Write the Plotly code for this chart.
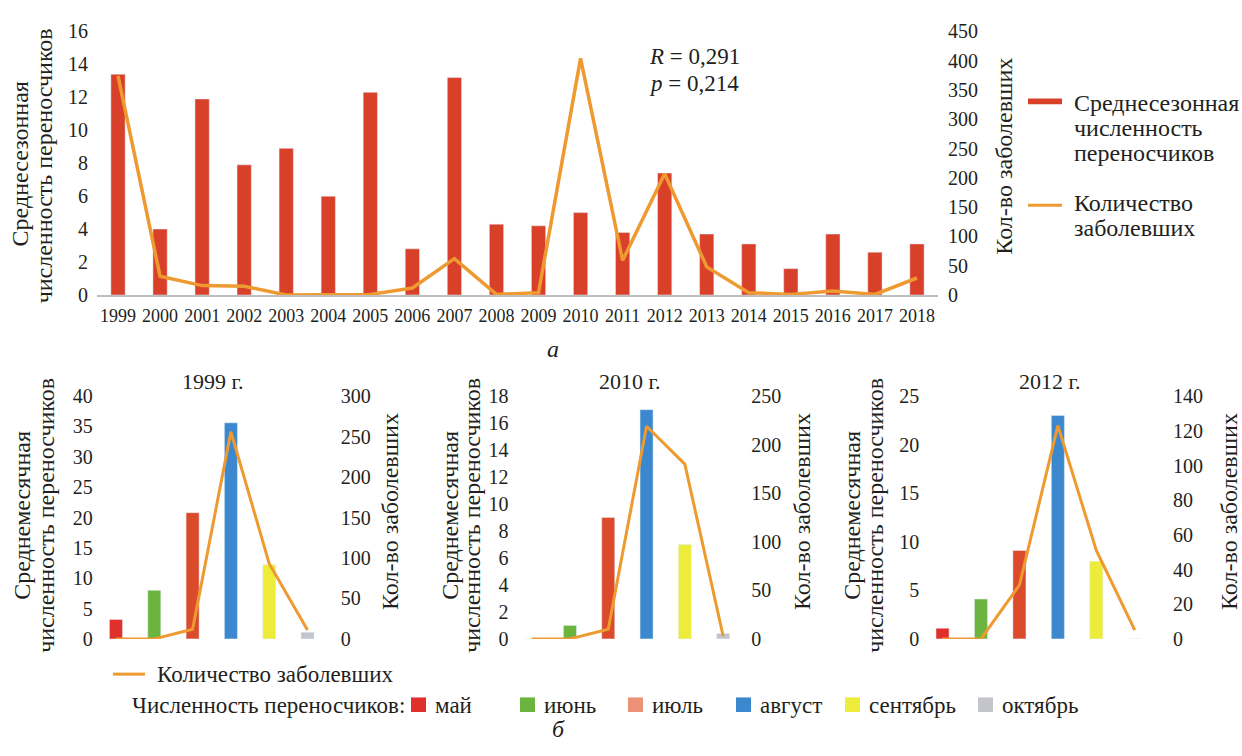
import plotly.graph_objects as go

W, H = 1242, 756
FONT = "Liberation Serif"
INK = "#231F20"

# ---- data: seasonal means 1999-2018 ----
years = ["1999", "2000", "2001", "2002", "2003", "2004", "2005", "2006", "2007", "2008",
         "2009", "2010", "2011", "2012", "2013", "2014", "2015", "2016", "2017", "2018"]
vector_mean = [13.4, 4.0, 11.9, 7.9, 8.9, 6.0, 12.3, 2.8, 13.2, 4.3,
               4.2, 5.0, 3.8, 7.4, 3.7, 3.1, 1.6, 3.7, 2.6, 3.1]
cases_year = [374, 32, 16, 15, 0, 0, 1, 12, 62, 1,
              4, 404, 59, 207, 48, 4, 1, 7, 1, 29]

# ---- data: monthly means for selected years ----
months = ["май", "июнь", "июль", "август", "сентябрь", "октябрь"]
vectors_1999 = [3.2, 8.0, 20.8, 35.6, 12.2, 1.1]
cases_1999 = [0, 0, 12, 256, 93, 11]
vectors_2010 = [0, 1.0, 9.0, 17.0, 7.0, 0.4]
cases_2010 = [0, 0, 10, 219, 180, 3]
vectors_2012 = [1.1, 4.1, 9.1, 23.0, 8.0, 0]
cases_2012 = [0, 0, 31, 123, 51, 5]

BAR_RED = "#D9402A"
LINE_ORANGE = "#EE9A30"
month_colors = ["#E0302B", "#6BB43F", "#DA4A2B", "#3B88CF", "#EEEC3A", "#C4C4CC"]
legend_month_colors = ["#E0302B", "#6BB43F", "#EC9278", "#3B88CF", "#EEEC3A", "#C4C4CC"]


def px(x):
    return x / W


def py(y):
    return 1 - y / H


fig = go.Figure()

# ---- top panel ----
fig.add_trace(go.Bar(x=years, y=vector_mean, marker_color=BAR_RED, xaxis="x", yaxis="y",
                     showlegend=False))
fig.add_trace(go.Scatter(x=years, y=cases_year, mode="lines", xaxis="x", yaxis="y2",
                         line=dict(color=LINE_ORANGE, width=3.5), showlegend=False))

# ---- bottom panels ----
panels = [
    ("x2", "y3", "y4", vectors_1999, cases_1999),
    ("x3", "y5", "y6", vectors_2010, cases_2010),
    ("x4", "y7", "y8", vectors_2012, cases_2012),
]
for xa, ya, yb, vec, cas in panels:
    fig.add_trace(go.Bar(x=months, y=vec, marker_color=month_colors, xaxis=xa, yaxis=ya,
                         showlegend=False))
    fig.add_trace(go.Scatter(x=months, y=cas, mode="lines", xaxis=xa, yaxis=yb,
                             line=dict(color=LINE_ORANGE, width=3), showlegend=False))

tick_font = dict(family=FONT, size=20, color=INK)
common_y = dict(showgrid=False, zeroline=False, showline=False, ticks="", tickfont=tick_font)

top_dom = [py(292.5), py(21)]
bot_dom = [py(646.7), py(396.7)]

layout = dict(
    width=W, height=H,
    margin=dict(l=0, r=0, t=0, b=0),
    paper_bgcolor="white", plot_bgcolor="white",
    bargap=0.66,
    showlegend=False,
    font=dict(family=FONT, color=INK, size=20),
    xaxis=dict(domain=[px(97), px(938)], anchor="y", showgrid=False, zeroline=False,
               showline=True, linecolor="#BFBFBF", linewidth=1.5, ticks="",
               tickfont=dict(family=FONT, size=18, color=INK), ticklabelstandoff=4,
               type="category"),
    yaxis=dict(domain=top_dom, anchor="x", range=[0, 16], dtick=2, ticklabelstandoff=8, **common_y),
    yaxis2=dict(overlaying="y", anchor="x", side="right", range=[0, 450], dtick=50,
                ticklabelstandoff=9, **common_y),
)

bottom_specs = [
    ("xaxis2", "yaxis3", "yaxis4", 96.8, 326.7, [0, 40], 5, [0, 300], 50, "y3", "x2", 13),
    ("xaxis3", "yaxis5", "yaxis6", 512.5, 742.3, [0, 18], 2, [0, 250], 50, "y5", "x3", 8),
    ("xaxis4", "yaxis7", "yaxis8", 923.3, 1154.0, [0, 25], 5, [0, 140], 20, "y7", "x4", 18),
]
for xk, yk1, yk2, x0, x1, r1, d1, r2, d2, yref, xref, rs in bottom_specs:
    layout[xk] = dict(domain=[px(x0), px(x1)], anchor=yref, showgrid=False, zeroline=False,
                      showline=False, showticklabels=False, ticks="", type="category")
    layout[yk1] = dict(domain=bot_dom, anchor=xref, range=r1, dtick=d1, ticklabelstandoff=3,
                       **common_y)
    layout[yk2] = dict(overlaying=yref, anchor=xref, side="right", range=r2, dtick=d2,
                       ticklabelstandoff=rs, **common_y)

fig.update_layout(**layout)

ann = []
shapes = []


def text(x, y, s, size=24, angle=0, xanchor="center", yanchor="middle"):
    ann.append(dict(x=px(x), y=py(y), xref="paper", yref="paper", text=s, showarrow=False,
                    textangle=angle, xanchor=xanchor, yanchor=yanchor,
                    font=dict(family=FONT, size=size, color=INK)))


# axis titles, top panel
text(20, 158, "Среднесезонная", angle=-90)
text(44, 160, "численность переносчиков", angle=-90)
text(1004, 150, "Кол-во заболевших", angle=-90)

# correlation note
text(647, 47, "<i>R</i> = 0,291", size=23, xanchor="left")
text(647, 75, "<i>p</i> = 0,214", size=23, xanchor="left")

# top legend
shapes.append(dict(type="rect", xref="paper", yref="paper", x0=px(1028), x1=px(1062),
                   y0=py(96), y1=py(90), fillcolor=BAR_RED, line=dict(width=0)))
text(1072, 95, "Среднесезонная", xanchor="left")
text(1072, 121, "численность", xanchor="left")
text(1072, 146, "переносчиков", xanchor="left")
shapes.append(dict(type="line", xref="paper", yref="paper", x0=px(1028), x1=px(1062),
                   y0=py(200), y1=py(200), line=dict(color=LINE_ORANGE, width=3)))
text(1072, 198, "Количество", xanchor="left")
text(1072, 224, "заболевших", xanchor="left")

text(553, 348, "<i>а</i>", size=24)

# bottom panel titles and axis titles
for cx, title, l1, l2, rx in [(213, "1999 г.", 22, 46, 390),
                              (630, "2010 г.", 450, 472, 802),
                              (1050, "2012 г.", 852, 875, 1229)]:
    text(cx, 382, title, size=22)
    text(l1, 520, "Среднемесячная", angle=-90)
    text(l2, 520, "численность переносчиков", angle=-90)
    text(rx, 516, "Кол-во заболевших", angle=-90)

# bottom legend
shapes.append(dict(type="line", xref="paper", yref="paper", x0=px(113), x1=px(145),
                   y0=py(683), y1=py(683), line=dict(color=LINE_ORANGE, width=3)))
text(155, 683, "Количество заболевших", size=23, xanchor="left")
text(130, 715, "Численность переносчиков:", size=23, xanchor="left")
sq_x = [411, 520, 628, 736, 845, 978]
for m, c, sx in zip(months, legend_month_colors, sq_x):
    shapes.append(dict(type="rect", xref="paper", yref="paper", x0=px(sx), x1=px(sx + 15),
                       y0=py(722), y1=py(707), fillcolor=c, line=dict(width=0)))
    text(sx + 22, 715, m, size=23, xanchor="left")

text(558, 740, "<i>б</i>", size=24)

fig.update_layout(annotations=ann, shapes=shapes)
fig.write_html("out.html")
